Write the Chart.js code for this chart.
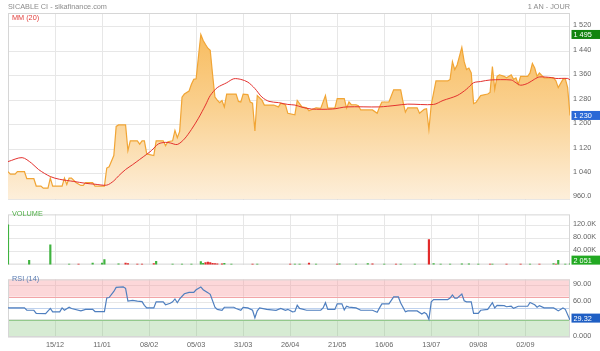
<!DOCTYPE html>
<html><head><meta charset="utf-8">
<script src="https://cdn.jsdelivr.net/npm/chart.js@4"></script>
<style>
html,body{margin:0;padding:0;background:#fff;}
#wrap{position:relative;width:600px;height:351px;overflow:hidden;font-family:"Liberation Sans",Arial,sans-serif;}
canvas{position:absolute;left:0;}
.t{position:absolute;font-size:7.3px;white-space:nowrap;line-height:1;z-index:5;}
</style></head><body>
<div id="wrap">
<canvas id="cP" style="top:0;width:600px;height:207px" width="600" height="207"></canvas>
<canvas id="cV" style="top:207px;width:600px;height:65px" width="600" height="65"></canvas>
<canvas id="cR" style="top:272px;width:600px;height:79px" width="600" height="79"></canvas>
<div class="t" style="left:8px;top:2.5px;color:#8c8c8c">SICABLE CI - sikafinance.com</div>
<div class="t" style="right:30px;top:2.5px;color:#8c8c8c">1 AN - JOUR</div>
<div class="t" style="left:12px;top:14px;color:#e2403d">MM (20)</div>
<div class="t" style="left:12px;top:209.5px;color:#52b04a">VOLUME</div>
<div class="t" style="left:12px;top:275px;color:#5b7db3">RSI (14)</div>
</div>
<script>
const tickDays = [20,40,60,80,100,120,140,160,180,200,220];
const tickDates = ['15/12','11/01','08/02','05/03','31/03','26/04','21/05','16/06','13/07','09/08','02/09'];

const priceDays = [0,1,3,4,7,8,11,12,14,15,17,18,19,23,24,25,26,27,29,31,32,33,36,37,41,42,43,45,46,47,50,51,52,55,56,57,58,59,62,63,66,67,68,70,71,72,73,74,75,77,78,79,80,82,83,84,85,86,87,88,89,90,91,92,93,97,98,99,100,102,103,104,105,106,108,109,113,115,116,118,119,122,123,125,127,128,131,133,135,136,139,140,143,144,145,146,148,149,150,155,157,158,159,162,164,167,168,169,170,174,175,177,178,179,180,182,187,188,189,190,191,193,194,195,196,197,198,199,201,204,205,206,207,208,209,211,212,214,215,216,217,218,221,222,223,224,225,226,228,232,233,234,236,237,238,239];
const priceValues = [1046,1038,1038,1046,1046,1023,1023,999,999,992,992,1025,999,999,1025,1004,1025,1025,1010,1001,1001,1010,1010,999,999,1058,1062,1099,1194,1199,1199,1115,1147,1147,1136,1147,1147,1104,1099,1147,1147,1131,1144,1147,1181,1157,1178,1290,1300,1310,1332,1348,1350,1495,1475,1462,1450,1443,1364,1290,1280,1272,1279,1258,1300,1300,1276,1274,1300,1298,1274,1270,1179,1295,1280,1264,1264,1258,1270,1264,1237,1232,1279,1258,1255,1245,1255,1253,1295,1254,1254,1285,1285,1254,1274,1265,1265,1262,1248,1248,1237,1258,1274,1274,1314,1314,1274,1241,1255,1255,1237,1250,1252,1184,1265,1343,1343,1348,1406,1380,1395,1453,1406,1380,1385,1369,1269,1272,1295,1300,1305,1390,1316,1358,1363,1358,1353,1363,1348,1353,1332,1358,1358,1369,1400,1385,1358,1369,1353,1353,1343,1321,1348,1350,1321,1230];

const maDays = [0,6,10,13,18,22,28,33,37,42,45,47,50,53,56,59,61,64,67,69,72,75,78,81,84,86,89,93,96,99,102,105,108,111,115,119,122,125,129,138,144,158,165,170,181,185,191,195,198,201,205,214,216,218,221,224,226,231,233,238,239];
const maValues = [1079,1092,1074,1053,1030,1021,1014,1008,1005,1002,1016,1032,1053,1069,1086,1103,1115,1137,1142,1140,1135,1153,1184,1221,1264,1295,1321,1337,1350,1348,1339,1318,1290,1276,1272,1266,1264,1257,1251,1251,1258,1258,1263,1267,1266,1279,1295,1316,1337,1341,1346,1346,1337,1329,1335,1349,1356,1354,1351,1351,1346];

const rsiDays = [0,7,8,11,12,16,18,19,22,23,24,26,27,31,33,36,37,41,42,43,45,46,49,50,51,53,55,57,58,59,62,63,66,67,69,70,71,72,73,75,77,79,80,82,83,85,86,88,89,91,92,96,97,99,100,102,104,105,106,107,110,114,116,118,119,121,122,123,124,127,133,134,135,136,139,140,142,143,144,145,148,150,155,157,158,159,162,164,166,167,169,170,174,176,177,178,179,180,181,187,188,189,190,191,193,194,195,197,198,200,201,204,206,207,208,211,212,214,215,217,221,222,224,225,226,228,232,233,234,236,237,239];
const rsiValues = [50.5,50.5,46.4,46.4,41.1,40.5,49.7,43.7,43.7,50.5,46.4,51.6,49.5,45.3,48,48,44.2,44.2,67.7,68.5,79,86,87,84.5,62.2,63.5,62.2,61.5,55,50.5,50.5,61,61,56,58.5,61,66,59.5,66,75,77.5,77.5,82,86.9,82,77,74,51.6,48,46.4,51.6,51.6,49.5,46.4,51.6,50.5,46.4,33.3,45.3,50.5,48,46.4,49.5,46.4,48,43.7,44.2,55,49.7,46.4,46.4,50.5,59.5,47.9,47.9,57.5,57.5,47,53.4,52,50.5,46.4,46.4,43,50.5,57.5,57.5,69.5,69.5,59,43.7,45.3,45.3,40,42.5,40,30.7,61,65,65,67.5,73,67.5,67.5,74.5,63,61,61,41.1,41.1,46.4,47.9,59.5,50.5,55,54.5,52.5,53.4,49.7,53.4,53.4,60,56,51.6,54.5,50.5,50.5,48,45.3,50.5,48,29.32];

const volUpDays = [0,9,18,26,36,40,41,47,63,70,74,78,82,83,92,95,106,122,124,131,141,148,153,160,167,173,181,184,188,193,196,200,206,222,232,234,237,239];
const volUpValues = [121000,13000,60000,1500,5000,4500,15000,2500,10000,2000,2000,1500,9000,4000,4000,1500,2000,1500,1500,2000,2500,1500,3000,1500,1500,1500,3000,2000,1500,2500,2500,2000,1500,1500,3000,13000,2000,2051];
const volDownDays = [30,50,51,55,57,62,84,85,86,87,88,89,91,104,120,128,140,155,165,179,205,212,218,226,233];
const volDownValues = [1500,5000,3000,2000,2000,3000,6000,8000,6000,4000,3500,2500,2500,1500,2000,5000,1500,2500,1500,76000,1500,1500,1500,1500,2000];

const priceTicks = [960,1040,1120,1200,1280,1360,1440,1520];
const priceTickLabels = ['960.0','1 040','1 120','1 200','1 280','1 360','1 440','1 520'];
const volTicks = [40000,80000,120000];
const volTickLabels = ['40.00K','80.00K','120.0K'];
const rsiTicks = [0,30,60,90];
const rsiTickLabels = ['0.000','30.00','60.00','90.00'];

const FONT = {family:'"Liberation Sans", Arial, sans-serif', size:7.3};
const TXT = '#666';
const GRID = '#e7e7e7';

function pts(days, vals){ return days.map((d,i)=>({x:d, y:vals[i]})); }

function xScale(show){
  return {type:'linear', min:0, max:239, position:'bottom', offset:false,
    afterBuildTicks: s => { s.ticks = tickDays.map(v=>({value:v})); },
    afterFit: s => { s.height = show ? 13 : 0; },
    ticks:{display:show, autoSkip:false, maxRotation:0, padding:4, font:FONT, color:TXT,
      callback:(v)=>{const k=tickDays.indexOf(v); return k>=0?tickDates[k]:'';}},
    grid:{color:GRID, drawTicks:false, lineWidth:1, offset:false},
    border:{display:false}};
}
function yScale(min,max,ticks,labels){
  return {type:'linear', position:'right', min:min, max:max,
    afterBuildTicks: s => { s.ticks = ticks.map(v=>({value:v})); },
    afterFit: s => { s.width = 30; },
    ticks:{padding:3, labelOffset:-1.5, font:FONT, color:TXT,
      callback:(v)=>{const k=ticks.indexOf(v); return k>=0?labels[k]:'';}},
    grid:{color:GRID, drawTicks:false, lineWidth:1},
    border:{display:false}};
}

function makeFrame(bands, tags){
  return {
    id:'frame',
    beforeDatasetsDraw(chart){
      const a = chart.chartArea, c = chart.ctx, y = chart.scales.y;
      c.save();
      bands.forEach(b=>{
        if (b.kind==='band'){ c.fillStyle=b.color; const t=y.getPixelForValue(b.hi), f=y.getPixelForValue(b.lo); c.fillRect(a.left,t,a.width,f-t); }
      });
      bands.forEach(b=>{
        if (b.kind==='line'){ c.strokeStyle=b.color; c.lineWidth=1; const p=Math.round(y.getPixelForValue(b.at))+0.5; c.beginPath(); c.moveTo(a.left,p); c.lineTo(a.right,p); c.stroke(); }
      });
      c.strokeStyle='#d6d6d6'; c.lineWidth=1;
      c.strokeRect(a.left+0.5, a.top+0.5, a.width-1, a.height-1);
      c.restore();
    },
    afterDraw(chart){
      const a = chart.chartArea, c = chart.ctx, y = chart.scales.y;
      c.save();
      tags.forEach(t=>{
        let cy = y.getPixelForValue(t.value) + (t.dy||0);
        cy = Math.min(cy, a.bottom-4.5);
        c.fillStyle = t.bg;
        c.fillRect(a.right+1.5, cy-4.5, chart.width-a.right-1.5, 9);
        c.fillStyle = '#fff';
        c.font = '7.3px "Liberation Sans", Arial, sans-serif';
        c.textBaseline = 'middle';
        c.textAlign = 'left';
        c.fillText(t.text, a.right+3.5, cy+0.5);
      });
      c.restore();
    }
  };
}

function baseOpts(pad, xs, ys){
  return {responsive:false, maintainAspectRatio:false, animation:false, events:[],
    layout:{padding:pad}, scales:{x:xs, y:ys},
    plugins:{legend:{display:false}, tooltip:{enabled:false}}};
}

new Chart(document.getElementById('cP'), {
  type:'line',
  data:{datasets:[
    {data:pts(maDays,maValues), borderColor:'#e3322f', borderWidth:1, pointRadius:0, tension:0.3, fill:false},
    {data:pts(priceDays,priceValues), borderColor:'#f1a535', borderWidth:1.2, pointRadius:0, tension:0, fill:'start',
      backgroundColor:(ctx)=>{const ch=ctx.chart, a=ch.chartArea; if(!a) return '#fbd79a';
        const g=ch.ctx.createLinearGradient(0,a.top,0,a.bottom); g.addColorStop(0,'#f7b753'); g.addColorStop(0.5,'#fad08e'); g.addColorStop(1,'#fdefdb'); return g;}}
  ]},
  options:baseOpts({top:13,bottom:1,left:8,right:0}, xScale(false), yScale(954.6,1565.2,priceTicks,priceTickLabels)),
  plugins:[makeFrame([], [{value:1495,text:'1 495',bg:'#12840f'},{value:1230,text:'1 230',bg:'#2a68d6'}])]
});

new Chart(document.getElementById('cV'), {
  type:'bar',
  data:{datasets:[
    {data:pts(volUpDays,volUpValues), backgroundColor:'#3fb33f', barThickness:1.5, grouped:false},
    {data:pts(volDownDays,volDownValues), backgroundColor:'#e22a2a', barThickness:1.5, grouped:false}
  ]},
  options:baseOpts({top:0,bottom:0,left:8,right:0}, xScale(false), yScale(0,153000,volTicks,volTickLabels)),
  plugins:[makeFrame([], [{value:2051,text:'2 051',bg:'#22a922'}])]
});

new Chart(document.getElementById('cR'), {
  type:'line',
  data:{datasets:[
    {data:pts(rsiDays,rsiValues), borderColor:'#4f7fbf', borderWidth:1.2, pointRadius:0, tension:0, fill:false}
  ]},
  options:baseOpts({top:1,bottom:1,left:8,right:0}, xScale(true), yScale(0,100,rsiTicks,rsiTickLabels)),
  plugins:[makeFrame([
      {kind:'band',lo:70,hi:100,color:'rgba(248,150,155,0.38)'},
      {kind:'band',lo:0,hi:30,color:'rgba(120,190,110,0.3)'},
      {kind:'line',at:70,color:'#f2a4a7'},{kind:'line',at:30,color:'#93c98c'},{kind:'line',at:50,color:'#bfd2ee'}],
    [{value:29.32,text:'29.32',bg:'#1f5fc4',dy:-2}])]
});
</script>
</body></html>
